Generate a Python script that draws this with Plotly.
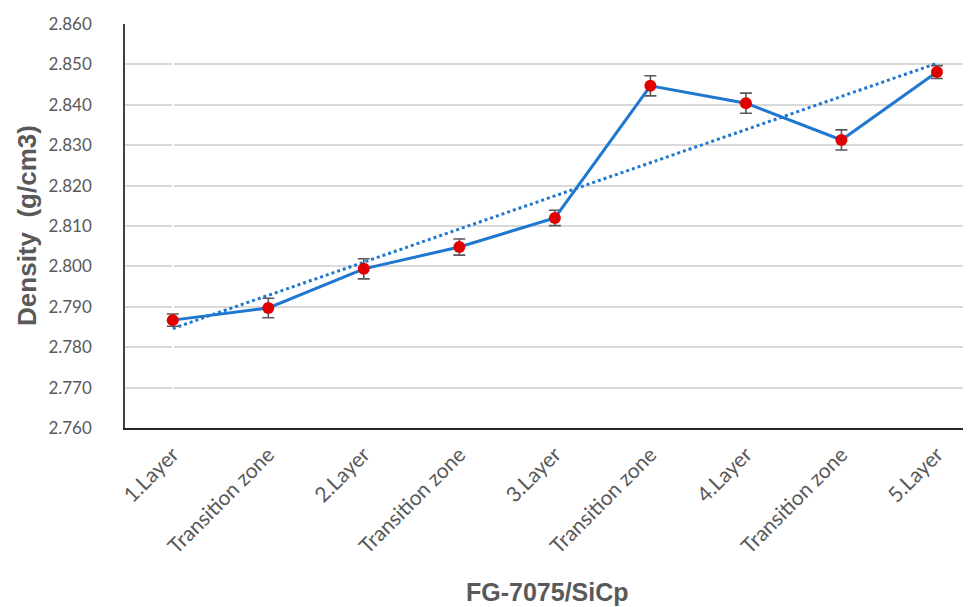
import numpy as np
import plotly.graph_objects as go

categories = ["1.Layer", "Transition zone", "2.Layer", "Transition zone", "3.Layer",
              "Transition zone", "4.Layer", "Transition zone", "5.Layer"]
density = [2.7867, 2.7897, 2.7994, 2.8048, 2.8120, 2.8447, 2.8404, 2.8313, 2.8481]
errors = [0.0015, 0.0024, 0.0025, 0.0020, 0.0019, 0.0025, 0.0025, 0.0025, 0.0016]
y_ticks = [2.760, 2.770, 2.780, 2.790, 2.800, 2.810, 2.820, 2.830, 2.840, 2.850, 2.860]
x_title = "FG-7075/SiCp"
y_title = "Density  (g/cm3)"

xpos = list(range(len(categories)))
slope, intercept = np.polyfit(xpos, density, 1)
trend = [slope * x + intercept for x in xpos]

BLUE = "#1F77D0"
GRAY = "#595959"

fig = go.Figure()
fig.add_trace(go.Scatter(
    x=xpos, y=trend, mode="lines",
    line=dict(color=BLUE, width=3, dash="dot"),
    hoverinfo="skip", showlegend=False))
fig.add_trace(go.Scatter(
    x=xpos, y=density, mode="lines+markers",
    line=dict(color=BLUE, width=3),
    marker=dict(color="#E00000", size=12),
    error_y=dict(type="data", array=errors, visible=True, color=GRAY, thickness=1.6, width=6),
    showlegend=False))

fig.update_layout(
    width=971, height=607,
    margin=dict(l=117, r=0, t=16, b=187),
    paper_bgcolor="white", plot_bgcolor="white",
    font=dict(family="Lato, Open Sans, sans-serif", color=GRAY),
    annotations=[
        dict(text="<b>" + x_title + "</b>", xref="paper", yref="paper",
             x=0.495, y=-0.406, xanchor="center", yanchor="middle", showarrow=False,
             font=dict(size=25, family="Liberation Sans, Arial", color=GRAY)),
        dict(text="<b>" + y_title + "</b>", xref="paper", yref="paper",
             x=-0.1148, y=0.5025, xanchor="center", yanchor="middle", showarrow=False,
             textangle=-90,
             font=dict(size=26, family="Liberation Sans, Arial", color=GRAY)),
    ],
)
fig.update_xaxes(
    tickmode="array", tickvals=xpos, ticktext=categories,
    range=[-0.5, 8.44], tickangle=-45,
    tickfont=dict(size=21, family="Lato", color=GRAY),
    showgrid=False, showline=True, linecolor="#262626", linewidth=2,
    ticks="", ticklabelstandoff=4,
)
fig.update_yaxes(
    range=[2.760, 2.860], tickvals=y_ticks,
    ticktext=[f"{v:.3f}" for v in y_ticks],
    tickfont=dict(size=17, family="Lato", color=GRAY),
    showgrid=True, gridcolor="#D9D9D9", gridwidth=1.5,
    showline=True, linecolor="#404040", linewidth=1.5,
    ticks="", ticklabelstandoff=28,
)

fig.write_html("out.html")
